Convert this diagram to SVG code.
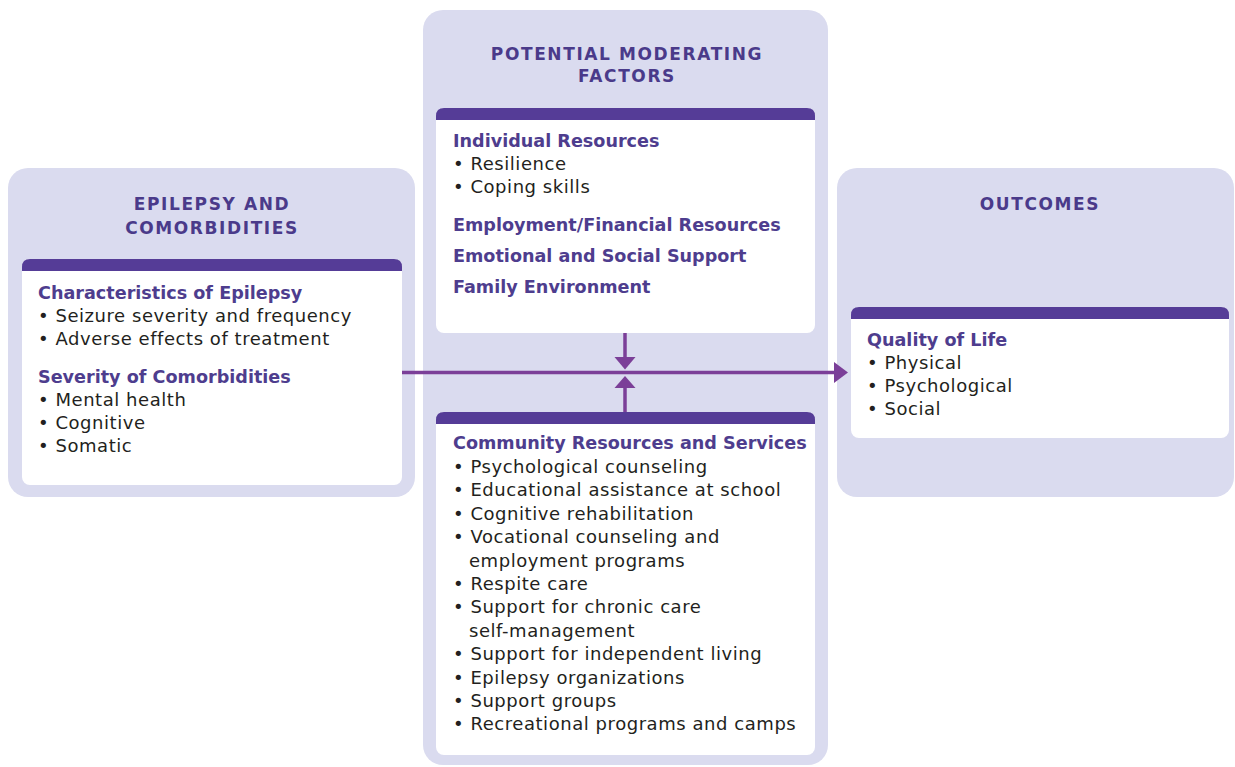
<svg xmlns="http://www.w3.org/2000/svg" width="1235" height="767" viewBox="0 0 1235 767">
<defs>
<style>
.outer{fill:#dadbef;}
.card{fill:#ffffff;}
.hdr{fill:#553c97;}
.title{font-family:"DejaVu Sans",sans-serif;font-weight:bold;font-size:17px;letter-spacing:1.6px;fill:#4a3a8a;text-anchor:middle;}
.head{font-family:"DejaVu Sans",sans-serif;font-weight:bold;font-size:17.6px;fill:#4e3d8e;}
.body{font-family:"DejaVu Sans",sans-serif;font-size:18px;letter-spacing:0.55px;fill:#231f20;}
.conn{stroke:#7b3f98;stroke-width:3.5;fill:none;}
.head-arrow{fill:#7b3f98;}
</style>
</defs>
<rect width="1235" height="767" fill="#ffffff"/>

<g id="epilepsy-comorbidities">
<rect class="outer" x="8" y="168" width="407" height="329" rx="20"/>
<text class="title" x="212" y="210">EPILEPSY AND</text>
<text class="title" x="212" y="234">COMORBIDITIES</text>
<rect class="card" x="22" y="259" width="380" height="226" rx="8"/>
<path class="hdr" d="M22,271 V267 Q22,259 30,259 H394 Q402,259 402,267 V271 Z"/>
<text class="head" x="38" y="299">Characteristics of Epilepsy</text>
<text class="body" x="38" y="322">• Seizure severity and frequency</text>
<text class="body" x="38" y="345">• Adverse effects of treatment</text>
<text class="head" x="38" y="383">Severity of Comorbidities</text>
<text class="body" x="38" y="406">• Mental health</text>
<text class="body" x="38" y="429">• Cognitive</text>
<text class="body" x="38" y="452">• Somatic</text>
</g>

<g id="potential-moderating-factors">
<rect class="outer" x="423" y="10" width="405" height="755" rx="20"/>
<text class="title" x="627" y="60">POTENTIAL MODERATING</text>
<text class="title" x="627" y="82">FACTORS</text>
</g>

<g id="individual-resources">
<rect class="card" x="436" y="108" width="379" height="225" rx="8"/>
<path class="hdr" d="M436,120 V116 Q436,108 444,108 H807 Q815,108 815,116 V120 Z"/>
<text class="head" x="453" y="147">Individual Resources</text>
<text class="body" x="453" y="170">• Resilience</text>
<text class="body" x="453" y="193">• Coping skills</text>
<text class="head" x="453" y="231">Employment/Financial Resources</text>
<text class="head" x="453" y="262">Emotional and Social Support</text>
<text class="head" x="453" y="293">Family Environment</text>
</g>

<g id="community-resources">
<rect class="card" x="436" y="412" width="379" height="343" rx="8"/>
<path class="hdr" d="M436,424 V420 Q436,412 444,412 H807 Q815,412 815,420 V424 Z"/>
<text class="head" x="453" y="449">Community Resources and Services</text>
<text class="body" x="453" y="473">• Psychological counseling</text>
<text class="body" x="453" y="496">• Educational assistance at school</text>
<text class="body" x="453" y="520">• Cognitive rehabilitation</text>
<text class="body" x="453" y="543">• Vocational counseling and</text>
<text class="body" x="469" y="567">employment programs</text>
<text class="body" x="453" y="590">• Respite care</text>
<text class="body" x="453" y="613">• Support for chronic care</text>
<text class="body" x="469" y="637">self-management</text>
<text class="body" x="453" y="660">• Support for independent living</text>
<text class="body" x="453" y="684">• Epilepsy organizations</text>
<text class="body" x="453" y="707">• Support groups</text>
<text class="body" x="453" y="730">• Recreational programs and camps</text>
</g>

<g id="outcomes">
<rect class="outer" x="837" y="168" width="397" height="329" rx="20"/>
<text class="title" x="1040" y="210">OUTCOMES</text>
<rect class="card" x="851" y="307" width="378" height="131" rx="8"/>
<path class="hdr" d="M851,319 V315 Q851,307 859,307 H1221 Q1229,307 1229,315 V319 Z"/>
<text class="head" x="867" y="346">Quality of Life</text>
<text class="body" x="867" y="369">• Physical</text>
<text class="body" x="867" y="392">• Psychological</text>
<text class="body" x="867" y="415">• Social</text>
</g>

<g id="connectors">
<line class="conn" x1="402" y1="372.5" x2="836" y2="372.5"/>
<polygon class="head-arrow" points="834,362 848,372.5 834,383"/>
<line class="conn" x1="625" y1="333" x2="625" y2="358"/>
<polygon class="head-arrow" points="614.5,357 635.5,357 625,369.5"/>
<line class="conn" x1="625" y1="387" x2="625" y2="412"/>
<polygon class="head-arrow" points="614.5,388 635.5,388 625,376"/>
</g>
</svg>
